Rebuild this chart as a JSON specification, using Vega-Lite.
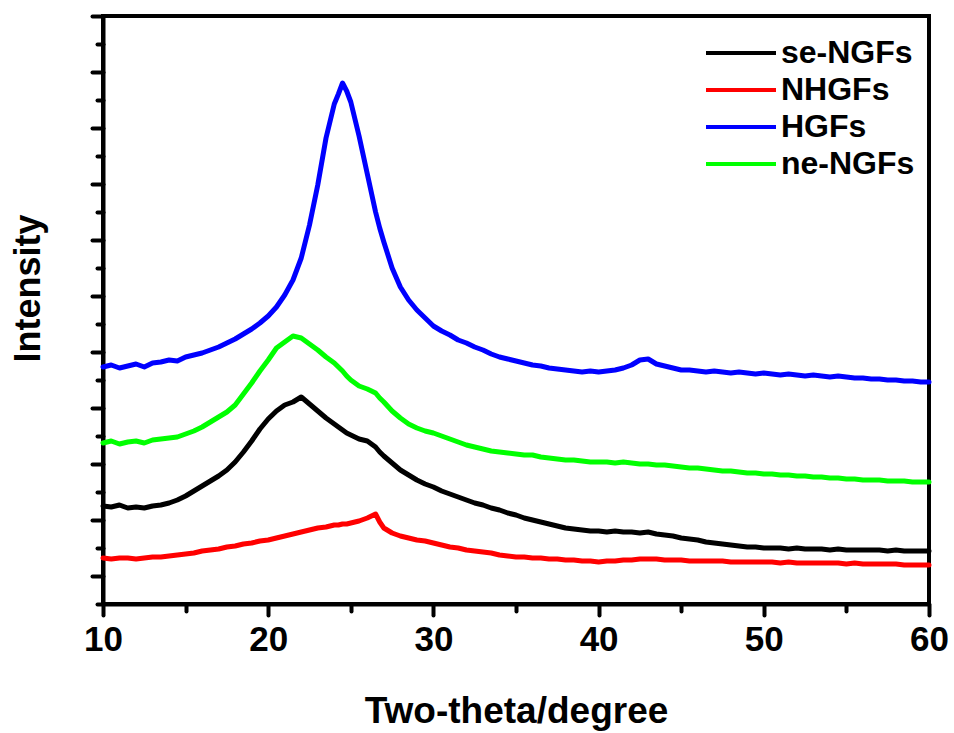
{
  "$schema": "https://vega.github.io/schema/vega-lite/v6.json",
  "width": 826,
  "height": 588,
  "autosize": {"type": "none"},
  "padding": {"left": 103, "top": 16, "right": 25, "bottom": 129},
  "background": "white",
  "config": {"view": {"stroke": "black", "strokeWidth": 4}, "font": "Liberation Sans"},
  "data": {"values": [
    {"t":10,"se-NGFs":98,"NHGFs":46,"HGFs":237,"ne-NGFs":161},
    {"t":10.5,"se-NGFs":97,"NHGFs":45,"HGFs":239,"ne-NGFs":163},
    {"t":11,"se-NGFs":99,"NHGFs":46,"HGFs":236,"ne-NGFs":160},
    {"t":11.5,"se-NGFs":96,"NHGFs":46,"HGFs":238,"ne-NGFs":162},
    {"t":12,"se-NGFs":97,"NHGFs":45,"HGFs":240,"ne-NGFs":163},
    {"t":12.5,"se-NGFs":96,"NHGFs":46,"HGFs":237,"ne-NGFs":161},
    {"t":13,"se-NGFs":98,"NHGFs":47,"HGFs":241,"ne-NGFs":164},
    {"t":13.5,"se-NGFs":99,"NHGFs":47,"HGFs":242,"ne-NGFs":165},
    {"t":14,"se-NGFs":101,"NHGFs":48,"HGFs":244,"ne-NGFs":166},
    {"t":14.5,"se-NGFs":104,"NHGFs":49,"HGFs":243,"ne-NGFs":167},
    {"t":15,"se-NGFs":108,"NHGFs":50,"HGFs":247,"ne-NGFs":170},
    {"t":15.5,"se-NGFs":113,"NHGFs":51,"HGFs":249,"ne-NGFs":173},
    {"t":16,"se-NGFs":118,"NHGFs":53,"HGFs":251,"ne-NGFs":177},
    {"t":16.5,"se-NGFs":123,"NHGFs":54,"HGFs":254,"ne-NGFs":182},
    {"t":17,"se-NGFs":128,"NHGFs":55,"HGFs":257,"ne-NGFs":187},
    {"t":17.5,"se-NGFs":134,"NHGFs":57,"HGFs":261,"ne-NGFs":192},
    {"t":18,"se-NGFs":142,"NHGFs":58,"HGFs":265,"ne-NGFs":199},
    {"t":18.5,"se-NGFs":152,"NHGFs":60,"HGFs":270,"ne-NGFs":210},
    {"t":19,"se-NGFs":163,"NHGFs":61,"HGFs":275,"ne-NGFs":221},
    {"t":19.5,"se-NGFs":175,"NHGFs":63,"HGFs":281,"ne-NGFs":233},
    {"t":20,"se-NGFs":185,"NHGFs":64,"HGFs":288,"ne-NGFs":244},
    {"t":20.5,"se-NGFs":193,"NHGFs":66,"HGFs":297,"ne-NGFs":256},
    {"t":21,"se-NGFs":199,"NHGFs":68,"HGFs":309,"ne-NGFs":262},
    {"t":21.5,"se-NGFs":202,"NHGFs":70,"HGFs":324,"ne-NGFs":268},
    {"t":22,"se-NGFs":207,"NHGFs":72,"HGFs":346,"ne-NGFs":266},
    {"t":22.5,"se-NGFs":200,"NHGFs":74,"HGFs":379,"ne-NGFs":260},
    {"t":23,"se-NGFs":193,"NHGFs":76,"HGFs":419,"ne-NGFs":254},
    {"t":23.5,"se-NGFs":186,"NHGFs":77,"HGFs":466,"ne-NGFs":247},
    {"t":24,"se-NGFs":180,"NHGFs":79,"HGFs":500,"ne-NGFs":241},
    {"t":24.25,"se-NGFs":177,"NHGFs":79,"HGFs":510,"ne-NGFs":237},
    {"t":24.5,"se-NGFs":174,"NHGFs":80,"HGFs":521,"ne-NGFs":233},
    {"t":24.75,"se-NGFs":171,"NHGFs":80,"HGFs":513,"ne-NGFs":228},
    {"t":25,"se-NGFs":169,"NHGFs":81,"HGFs":502,"ne-NGFs":224},
    {"t":25.5,"se-NGFs":165,"NHGFs":83,"HGFs":468,"ne-NGFs":218},
    {"t":26,"se-NGFs":163,"NHGFs":86,"HGFs":430,"ne-NGFs":215},
    {"t":26.5,"se-NGFs":157,"NHGFs":90,"HGFs":392,"ne-NGFs":211},
    {"t":26.75,"se-NGFs":152,"NHGFs":82,"HGFs":376,"ne-NGFs":206},
    {"t":27,"se-NGFs":148,"NHGFs":76,"HGFs":362,"ne-NGFs":202},
    {"t":27.5,"se-NGFs":141,"NHGFs":71,"HGFs":336,"ne-NGFs":193},
    {"t":28,"se-NGFs":134,"NHGFs":68,"HGFs":317,"ne-NGFs":186},
    {"t":28.5,"se-NGFs":129,"NHGFs":66,"HGFs":304,"ne-NGFs":180},
    {"t":29,"se-NGFs":124,"NHGFs":64,"HGFs":294,"ne-NGFs":176},
    {"t":29.5,"se-NGFs":120,"NHGFs":63,"HGFs":286,"ne-NGFs":173},
    {"t":30,"se-NGFs":117,"NHGFs":61,"HGFs":278,"ne-NGFs":171},
    {"t":30.5,"se-NGFs":113,"NHGFs":59,"HGFs":273,"ne-NGFs":168},
    {"t":31,"se-NGFs":110,"NHGFs":57,"HGFs":269,"ne-NGFs":165},
    {"t":31.5,"se-NGFs":107,"NHGFs":56,"HGFs":264,"ne-NGFs":162},
    {"t":32,"se-NGFs":104,"NHGFs":54,"HGFs":261,"ne-NGFs":159},
    {"t":32.5,"se-NGFs":101,"NHGFs":53,"HGFs":257,"ne-NGFs":157},
    {"t":33,"se-NGFs":99,"NHGFs":52,"HGFs":254,"ne-NGFs":155},
    {"t":33.5,"se-NGFs":96,"NHGFs":51,"HGFs":250,"ne-NGFs":153},
    {"t":34,"se-NGFs":94,"NHGFs":49,"HGFs":247,"ne-NGFs":152},
    {"t":34.5,"se-NGFs":91,"NHGFs":48,"HGFs":245,"ne-NGFs":151},
    {"t":35,"se-NGFs":89,"NHGFs":47,"HGFs":243,"ne-NGFs":150},
    {"t":35.5,"se-NGFs":86,"NHGFs":47,"HGFs":241,"ne-NGFs":149},
    {"t":36,"se-NGFs":84,"NHGFs":46,"HGFs":239,"ne-NGFs":149},
    {"t":36.5,"se-NGFs":82,"NHGFs":46,"HGFs":238,"ne-NGFs":147},
    {"t":37,"se-NGFs":80,"NHGFs":45,"HGFs":236,"ne-NGFs":146},
    {"t":37.5,"se-NGFs":78,"NHGFs":45,"HGFs":235,"ne-NGFs":145},
    {"t":38,"se-NGFs":76,"NHGFs":44,"HGFs":234,"ne-NGFs":144},
    {"t":38.5,"se-NGFs":75,"NHGFs":44,"HGFs":233,"ne-NGFs":144},
    {"t":39,"se-NGFs":74,"NHGFs":43,"HGFs":232,"ne-NGFs":143},
    {"t":39.5,"se-NGFs":73,"NHGFs":43,"HGFs":233,"ne-NGFs":142},
    {"t":40,"se-NGFs":73,"NHGFs":42,"HGFs":232,"ne-NGFs":142},
    {"t":40.5,"se-NGFs":72,"NHGFs":43,"HGFs":233,"ne-NGFs":142},
    {"t":41,"se-NGFs":73,"NHGFs":43,"HGFs":234,"ne-NGFs":141},
    {"t":41.5,"se-NGFs":72,"NHGFs":44,"HGFs":236,"ne-NGFs":142},
    {"t":42,"se-NGFs":72,"NHGFs":44,"HGFs":239,"ne-NGFs":141},
    {"t":42.5,"se-NGFs":71,"NHGFs":45,"HGFs":244,"ne-NGFs":140},
    {"t":43,"se-NGFs":72,"NHGFs":45,"HGFs":245,"ne-NGFs":140},
    {"t":43.5,"se-NGFs":70,"NHGFs":45,"HGFs":240,"ne-NGFs":139},
    {"t":44,"se-NGFs":69,"NHGFs":44,"HGFs":238,"ne-NGFs":139},
    {"t":44.5,"se-NGFs":68,"NHGFs":44,"HGFs":236,"ne-NGFs":138},
    {"t":45,"se-NGFs":66,"NHGFs":44,"HGFs":234,"ne-NGFs":137},
    {"t":45.5,"se-NGFs":65,"NHGFs":43,"HGFs":234,"ne-NGFs":136},
    {"t":46,"se-NGFs":64,"NHGFs":43,"HGFs":233,"ne-NGFs":136},
    {"t":46.5,"se-NGFs":62,"NHGFs":43,"HGFs":232,"ne-NGFs":135},
    {"t":47,"se-NGFs":61,"NHGFs":43,"HGFs":233,"ne-NGFs":134},
    {"t":47.5,"se-NGFs":60,"NHGFs":43,"HGFs":232,"ne-NGFs":133},
    {"t":48,"se-NGFs":59,"NHGFs":42,"HGFs":231,"ne-NGFs":133},
    {"t":48.5,"se-NGFs":58,"NHGFs":42,"HGFs":232,"ne-NGFs":132},
    {"t":49,"se-NGFs":57,"NHGFs":42,"HGFs":231,"ne-NGFs":131},
    {"t":49.5,"se-NGFs":57,"NHGFs":42,"HGFs":230,"ne-NGFs":131},
    {"t":50,"se-NGFs":56,"NHGFs":42,"HGFs":231,"ne-NGFs":130},
    {"t":50.5,"se-NGFs":56,"NHGFs":42,"HGFs":230,"ne-NGFs":130},
    {"t":51,"se-NGFs":56,"NHGFs":41,"HGFs":229,"ne-NGFs":129},
    {"t":51.5,"se-NGFs":55,"NHGFs":42,"HGFs":230,"ne-NGFs":129},
    {"t":52,"se-NGFs":56,"NHGFs":41,"HGFs":229,"ne-NGFs":128},
    {"t":52.5,"se-NGFs":55,"NHGFs":41,"HGFs":228,"ne-NGFs":128},
    {"t":53,"se-NGFs":55,"NHGFs":41,"HGFs":229,"ne-NGFs":127},
    {"t":53.5,"se-NGFs":55,"NHGFs":41,"HGFs":228,"ne-NGFs":127},
    {"t":54,"se-NGFs":54,"NHGFs":41,"HGFs":227,"ne-NGFs":126},
    {"t":54.5,"se-NGFs":55,"NHGFs":41,"HGFs":228,"ne-NGFs":126},
    {"t":55,"se-NGFs":54,"NHGFs":40,"HGFs":227,"ne-NGFs":125},
    {"t":55.5,"se-NGFs":54,"NHGFs":41,"HGFs":226,"ne-NGFs":125},
    {"t":56,"se-NGFs":54,"NHGFs":40,"HGFs":226,"ne-NGFs":124},
    {"t":56.5,"se-NGFs":54,"NHGFs":40,"HGFs":225,"ne-NGFs":124},
    {"t":57,"se-NGFs":54,"NHGFs":40,"HGFs":225,"ne-NGFs":124},
    {"t":57.5,"se-NGFs":53,"NHGFs":40,"HGFs":224,"ne-NGFs":123},
    {"t":58,"se-NGFs":54,"NHGFs":40,"HGFs":224,"ne-NGFs":123},
    {"t":58.5,"se-NGFs":53,"NHGFs":39,"HGFs":223,"ne-NGFs":123},
    {"t":59,"se-NGFs":53,"NHGFs":39,"HGFs":223,"ne-NGFs":122},
    {"t":59.5,"se-NGFs":53,"NHGFs":39,"HGFs":222,"ne-NGFs":122},
    {"t":60,"se-NGFs":53,"NHGFs":39,"HGFs":222,"ne-NGFs":122}
  ]},
  "transform": [{"fold": ["se-NGFs", "NHGFs", "HGFs", "ne-NGFs"], "as": ["series", "intensity"]}],
  "mark": {"type": "line", "strokeWidth": 5, "strokeJoin": "round", "strokeCap": "round"},
  "encoding": {
    "x": {
      "field": "t", "type": "quantitative",
      "scale": {"domain": [10, 60], "nice": false, "zero": false},
      "axis": {
        "title": "Two-theta/degree",
        "values": [10, 15, 20, 25, 30, 35, 40, 45, 50, 55, 60],
        "labelExpr": "datum.value % 10 === 0 ? datum.label : ''",
        "labelFont": "Liberation Sans", "labelFontSize": 35, "labelFontWeight": "bold", "labelColor": "black",
        "labelPadding": 7, "labelFlush": false, "labelOverlap": false,
        "tickSize": {"condition": {"test": "datum.value % 10 === 0", "value": 11}, "value": 7},
        "tickWidth": 4, "tickColor": "black", "tickCap": "round",
        "domainColor": "black", "domainWidth": 4, "grid": false,
        "titleFont": "Liberation Sans", "titleFontSize": 37, "titleFontWeight": "bold", "titleColor": "black",
        "titleY": 118, "titleBaseline": "alphabetic"
      }
    },
    "y": {
      "field": "intensity", "type": "quantitative",
      "scale": {"domain": [0, 588], "nice": false},
      "axis": {
        "title": "Intensity",
        "values": [0, 28, 56, 84, 112, 140, 168, 196, 224, 252, 280, 308, 336, 364, 392, 420, 448, 476, 504, 532, 560, 588],
        "labels": false,
        "tickSize": {"condition": {"test": "(datum.value / 28) % 2 === 1", "value": 11}, "value": 6},
        "tickWidth": 4, "tickColor": "black", "tickCap": "round",
        "domainColor": "black", "domainWidth": 4, "grid": false,
        "titleFont": "Liberation Sans", "titleFontSize": 36, "titleFontWeight": "bold", "titleColor": "black",
        "titleX": -64, "titleY": 272, "titleBaseline": "alphabetic", "titleAlign": "center", "titleAngle": -90
      }
    },
    "color": {
      "field": "series", "type": "nominal",
      "scale": {"domain": ["se-NGFs", "NHGFs", "HGFs", "ne-NGFs"], "range": ["#000000", "#ff0000", "#0000ff", "#00ff00"]},
      "legend": {
        "orient": "none", "legendX": 622, "legendY": 21, "title": null,
        "symbolType": "M-2.5,0H2.5", "symbolSize": 784, "symbolStrokeWidth": 4,
        "labelFont": "Liberation Sans", "labelFontSize": 32, "labelFontWeight": "bold", "labelColor": "black",
        "labelOffset": 24, "rowPadding": 5, "padding": 0
      }
    }
  }
}
